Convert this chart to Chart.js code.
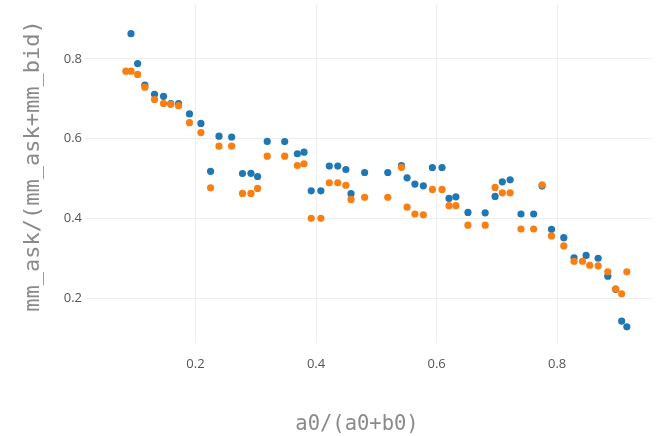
<!DOCTYPE html>
<html lang="en">

<head>
  <meta charset="UTF-8">
  <title>mm_ask share</title>
  <style>
    html, body { margin: 0; padding: 0; background: #fff; overflow: hidden; }
    .grafico { width: 657px; height: 436px; }
  </style>
</head>

<body>
  <div class="grafico">
    <canvas id="myChart" width="657" height="436"></canvas>
  </div>
</body>

</html>
<script src="https://cdn.jsdelivr.net/npm/chart.js"></script>
<script>

  // series 1 (blue)
  const xAzul = [0.093, 0.104, 0.116, 0.132, 0.147, 0.159, 0.172, 0.19, 0.209, 0.225, 0.239, 0.26, 0.278, 0.292, 0.303,
    0.319, 0.348, 0.369, 0.38, 0.392, 0.408, 0.422, 0.436, 0.4495, 0.458, 0.4806, 0.519, 0.5417, 0.551, 0.564, 0.578,
    0.593, 0.609, 0.6206, 0.632, 0.652, 0.6806, 0.697, 0.709, 0.722, 0.74, 0.761, 0.775, 0.7906, 0.811, 0.828, 0.848,
    0.868, 0.884, 0.897, 0.907, 0.9156];
  const yAzul = [0.863, 0.788, 0.734, 0.711, 0.706, 0.688, 0.688, 0.662, 0.638, 0.518, 0.606, 0.604, 0.5125, 0.513, 0.505,
    0.593, 0.5925, 0.562, 0.566, 0.469, 0.469, 0.531, 0.531, 0.5225, 0.462, 0.515, 0.515, 0.532, 0.5017, 0.486, 0.4817,
    0.5275, 0.5275, 0.45, 0.454, 0.415, 0.414, 0.455, 0.4917, 0.4967, 0.411, 0.411, 0.481, 0.3725, 0.3517, 0.301, 0.307,
    0.30, 0.255, 0.222, 0.1425, 0.128];

  // series 2 (orange)
  const xLaranja = [0.0845, 0.093, 0.104, 0.116, 0.132, 0.147, 0.159, 0.172, 0.19, 0.209, 0.225, 0.239, 0.26, 0.278, 0.292,
    0.303, 0.319, 0.348, 0.369, 0.38, 0.392, 0.408, 0.422, 0.436, 0.4495, 0.458, 0.4806, 0.519, 0.5417, 0.551, 0.564,
    0.578, 0.593, 0.609, 0.6206, 0.632, 0.652, 0.6806, 0.697, 0.709, 0.722, 0.74, 0.761, 0.775, 0.7906, 0.811, 0.828,
    0.842, 0.854, 0.868, 0.884, 0.897, 0.907, 0.9156];
  const yLaranja = [0.769, 0.769, 0.761, 0.729, 0.698, 0.688, 0.686, 0.6825, 0.64, 0.615, 0.4767, 0.581, 0.581, 0.4625, 0.4625,
    0.475, 0.556, 0.556, 0.5325, 0.537, 0.40, 0.40, 0.489, 0.489, 0.483, 0.4475, 0.453, 0.453, 0.528, 0.428, 0.411,
    0.409, 0.4725, 0.4725, 0.4317, 0.4317, 0.383, 0.383, 0.4775, 0.464, 0.464, 0.3733, 0.3733, 0.484, 0.356, 0.331, 0.2925,
    0.2925, 0.2825, 0.281, 0.266, 0.223, 0.211, 0.266];

  const ticksX = [0.2, 0.4, 0.6, 0.8];
  const ticksY = [0.2, 0.4, 0.6, 0.8];

  const tituloX = 'a0/(a0+b0)';
  const tituloY = 'mm_ask/(mm_ask+mm_bid)';

  const pontos = (xs, ys) => xs.map((x, i) => ({ x: x, y: ys[i] }));

  // figure is cropped on the right, so the axis titles sit a bit left/up of the visible plot centre
  const titulosEixos = {
    id: 'titulosEixos',
    afterDraw(chart) {
      const c = chart.ctx;
      c.save();
      c.fillStyle = '#8a8a8a';
      c.textAlign = 'center';
      c.textBaseline = 'middle';
      c.font = '20.5px "DejaVu Sans Mono"';
      c.fillText(tituloX, 357, 425);
      c.translate(33, 166);
      c.rotate(-Math.PI / 2);
      c.font = '22px "DejaVu Sans Mono"';
      c.fillText(tituloY, 0, 0);
      c.restore();
    }
  };

  // drop the extra room Chart.js keeps for the outer tick labels
  const semPadding = (scale) => {
    scale.paddingTop = 0;
    scale.paddingBottom = 0;
    scale.paddingLeft = 0;
    scale.paddingRight = 0;
  };

  const ctx = document.getElementById('myChart').getContext('2d');

  const grafico = new Chart(ctx, {
    type: 'scatter',
    data: {
      datasets: [
        {
          label: 'mm_ask',
          data: pontos(xAzul, yAzul),
          backgroundColor: '#1f77b4',
          borderWidth: 0,
          pointRadius: 3.6,
          order: 2
        },
        {
          label: 'mm_ask (2)',
          data: pontos(xLaranja, yLaranja),
          backgroundColor: '#fa7f12',
          borderWidth: 0,
          pointRadius: 3.6,
          order: 1
        }
      ]
    },
    options: {
      responsive: false,
      animation: false,
      layout: { padding: { top: 3, left: 0, right: 0, bottom: 0 } },
      scales: {
        x: {
          type: 'linear',
          min: 0.0167,
          max: 0.959,
          afterBuildTicks: (scale) => { scale.ticks = ticksX.map(v => ({ value: v })); },
          afterFit: (scale) => { scale.height = 93; semPadding(scale); },
          ticks: {
            padding: 13,
            color: '#555',
            font: { family: 'Open Sans', size: 13 },
            callback: (v) => v.toString()
          },
          grid: { color: '#eeeeee', drawTicks: false },
          border: { display: false }
        },
        y: {
          type: 'linear',
          min: 0.0875,
          max: 0.9375,
          afterBuildTicks: (scale) => { scale.ticks = ticksY.map(v => ({ value: v })); },
          afterFit: (scale) => { scale.width = 85; semPadding(scale); },
          ticks: {
            padding: 3,
            color: '#555',
            font: { family: 'Open Sans', size: 13 },
            callback: (v) => v.toString()
          },
          grid: { color: '#eeeeee', drawTicks: false },
          border: { display: false }
        }
      },
      plugins: {
        legend: { display: false },
        tooltip: { enabled: false }
      }
    },
    plugins: [titulosEixos]
  });

</script>
